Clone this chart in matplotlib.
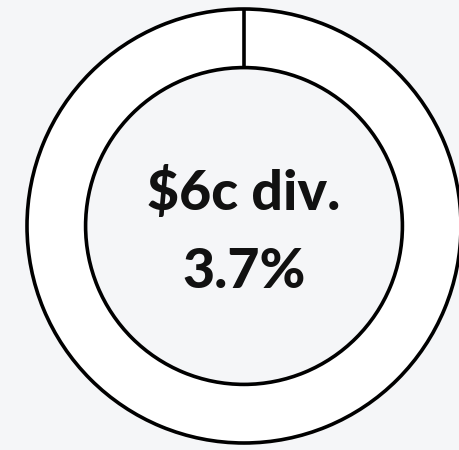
import matplotlib
matplotlib.use("Agg")
import numpy as np
import matplotlib.pyplot as plt

# dividend donut: single full slice
shares = [100]
label_lines = ["$6c div.", "3.7%"]

bg = "#F5F6F8"
start_angle = 90
ring_width = 0.27

fig = plt.figure(figsize=(4.59, 4.5), dpi=100, facecolor=bg)
ax = fig.add_axes([0, 0, 1, 1])
ax.set_facecolor(bg)

ax.pie(shares, startangle=start_angle, counterclock=False, colors=["white"],
       radius=1.0,
       wedgeprops=dict(width=ring_width, edgecolor="black", linewidth=2.6))

# a full single wedge has no radial edge, so draw the slice boundary
a = np.deg2rad(start_angle)
ax.plot([(1 - ring_width) * np.cos(a), np.cos(a)],
        [(1 - ring_width) * np.sin(a), np.sin(a)],
        color="black", lw=2.6, solid_capstyle="butt")

# center of the ring sits at (244, 226) px, radius 217 px
scale = 217.0
ax.set_aspect("auto")
ax.set_xlim(-244 / scale, (459 - 244) / scale)
ax.set_ylim(-(450 - 226) / scale, 226 / scale)
ax.axis("off")

for line, y in zip(label_lines, [0.074, -0.286]):
    ax.text(0, y, line, ha="center", va="baseline",
            fontsize=40, fontweight=900, family=["Lato", "DejaVu Sans"],
            color="#111111")

fig.savefig("out.png", dpi=100, facecolor=bg)
